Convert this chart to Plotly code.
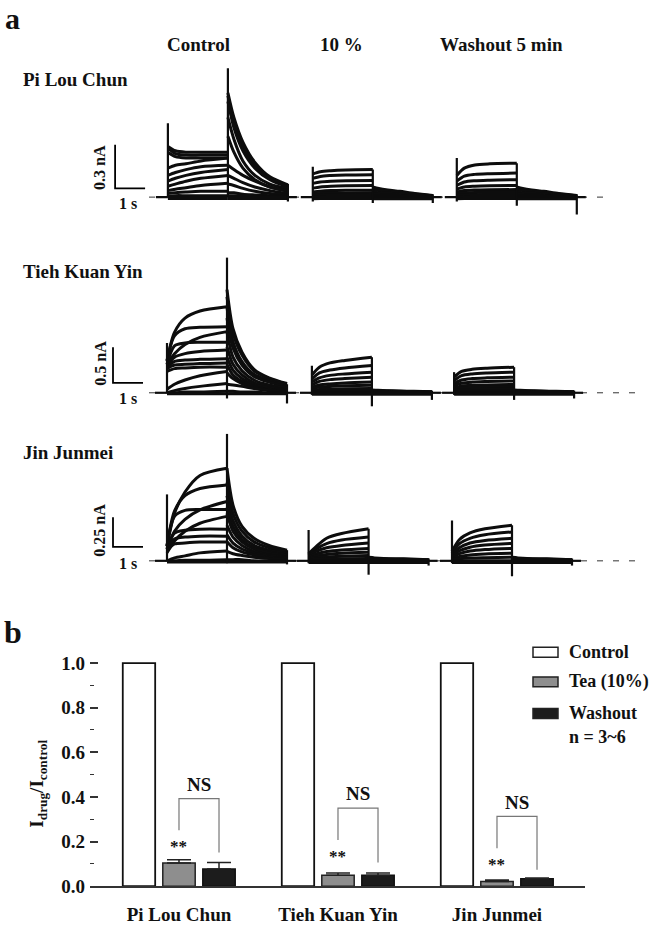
import plotly.graph_objects as go

W, H = 657, 933
FONT = "Liberation Serif, Times New Roman, DejaVu Serif, serif"

# ---------------- panel a : current families (nA vs s) ----------------
STEP_T = [0.0, 0.25, 0.6, 1.1, 2.0]          # s after step onset
TAIL_T = [0.0, 0.2, 0.5, 0.9, 1.4, 2.0]      # s after step end

# Pi Lou Chun
PLC_CTRL_STEP = [
    [0.35, 0.32, 0.31, 0.31, 0.31],
    [0.34, 0.30, 0.29, 0.29, 0.29],
    [0.31, 0.28, 0.27, 0.27, 0.27],
    [0.20, 0.22, 0.23, 0.25, 0.27],
    [0.15, 0.17, 0.19, 0.21, 0.22],
    [0.11, 0.13, 0.15, 0.17, 0.19],
    [0.075, 0.09, 0.11, 0.13, 0.15],
    [0.045, 0.055, 0.065, 0.08, 0.095],
    [0.025, 0.03, 0.035, 0.04, 0.04],
    [0.005, 0.01, 0.01, 0.01, 0.01],
    [-0.01, -0.01, -0.01, -0.01, -0.01],
]
PLC_CTRL_TAIL = [
    [0.72, 0.55, 0.38, 0.24, 0.14, 0.085],
    [0.70, 0.52, 0.35, 0.22, 0.13, 0.08],
    [0.66, 0.48, 0.32, 0.20, 0.12, 0.07],
    [0.55, 0.40, 0.25, 0.15, 0.09, 0.06],
    [0.42, 0.31, 0.20, 0.12, 0.07, 0.045],
    [0.22, 0.19, 0.15, 0.11, 0.07, 0.04],
    [0.15, 0.13, 0.10, 0.07, 0.045, 0.025],
    [0.09, 0.08, 0.06, 0.04, 0.025, 0.015],
    [0.03, 0.03, 0.02, 0.015, 0.01, 0.005],
    [0.01, 0.01, 0.01, 0.0, 0.0, 0.0],
    [-0.01, -0.01, -0.01, -0.01, -0.01, -0.01],
]
PLC_TEA_STEP = [
    [0.16, 0.175, 0.182, 0.187, 0.19],
    [0.13, 0.143, 0.149, 0.153, 0.155],
    [0.095, 0.105, 0.11, 0.113, 0.115],
    [0.062, 0.07, 0.075, 0.078, 0.08],
    [0.035, 0.041, 0.045, 0.047, 0.048],
    [0.02, 0.025, 0.027, 0.029, 0.03],
    [0.012, 0.015, 0.016, 0.017, 0.018],
    [0.0, 0.003, 0.004, 0.005, 0.005],
    [-0.012, -0.01, -0.01, -0.01, -0.01],
]
PLC_TEA_TAIL = [
    [0.07, 0.06, 0.05, 0.04, 0.025, 0.012],
    [0.05, 0.045, 0.038, 0.03, 0.02, 0.01],
    [0.035, 0.03, 0.026, 0.02, 0.014, 0.008],
    [0.02, 0.018, 0.015, 0.012, 0.008, 0.005],
    [0.01, 0.01, 0.008, 0.006, 0.004, 0.002],
    [0.005, 0.005, 0.004, 0.003, 0.002, 0.0],
    [0.0, 0.0, 0.0, 0.0, 0.0, 0.0],
    [-0.005, -0.005, -0.005, -0.005, -0.005, -0.005],
    [-0.012, -0.012, -0.012, -0.012, -0.012, -0.012],
]
PLC_WASH_STEP = [
    [0.15, 0.20, 0.222, 0.23, 0.234],
    [0.11, 0.145, 0.157, 0.162, 0.166],
    [0.08, 0.104, 0.113, 0.117, 0.12],
    [0.055, 0.07, 0.075, 0.078, 0.08],
    [0.035, 0.045, 0.049, 0.051, 0.052],
    [0.022, 0.029, 0.032, 0.033, 0.034],
    [0.012, 0.015, 0.017, 0.018, 0.018],
    [0.0, 0.003, 0.004, 0.005, 0.005],
    [-0.012, -0.01, -0.01, -0.01, -0.01],
]
PLC_WASH_TAIL = PLC_TEA_TAIL

# Tieh Kuan Yin
TKY_CTRL_STEP = [
    [0.45, 0.85, 1.05, 1.15, 1.21],
    [0.45, 0.80, 0.90, 0.92, 0.93],
    [0.40, 0.55, 0.68, 0.78, 0.86],
    [0.40, 0.66, 0.70, 0.71, 0.71],
    [0.38, 0.50, 0.55, 0.58, 0.60],
    [0.36, 0.44, 0.46, 0.47, 0.48],
    [0.34, 0.39, 0.40, 0.41, 0.42],
    [0.30, 0.34, 0.35, 0.36, 0.36],
    [0.05, 0.12, 0.18, 0.24, 0.30],
    [0.0, 0.03, 0.06, 0.09, 0.13],
    [0.0, 0.0, 0.01, 0.01, 0.02],
    [-0.015, -0.015, -0.015, -0.015, -0.015],
]
TKY_CTRL_TAIL = [
    [1.45, 0.90, 0.57, 0.33, 0.21, 0.13],
    [1.35, 0.84, 0.53, 0.31, 0.20, 0.12],
    [1.20, 0.72, 0.44, 0.26, 0.17, 0.10],
    [1.05, 0.63, 0.39, 0.23, 0.15, 0.09],
    [0.85, 0.50, 0.31, 0.18, 0.11, 0.07],
    [0.65, 0.40, 0.25, 0.14, 0.09, 0.05],
    [0.50, 0.32, 0.20, 0.11, 0.07, 0.04],
    [0.40, 0.25, 0.16, 0.09, 0.05, 0.03],
    [0.28, 0.20, 0.13, 0.07, 0.04, 0.02],
    [0.12, 0.11, 0.09, 0.06, 0.03, 0.01],
    [0.02, 0.02, 0.01, 0.01, 0.0, 0.0],
    [-0.015, -0.015, -0.015, -0.015, -0.015, -0.015],
]
TKY_TEA_STEP = [
    [0.25, 0.36, 0.42, 0.455, 0.50],
    [0.19, 0.28, 0.32, 0.35, 0.385],
    [0.15, 0.21, 0.245, 0.265, 0.29],
    [0.11, 0.16, 0.185, 0.20, 0.22],
    [0.08, 0.11, 0.125, 0.138, 0.15],
    [0.055, 0.08, 0.09, 0.098, 0.107],
    [0.03, 0.045, 0.05, 0.055, 0.06],
    [0.015, 0.022, 0.025, 0.028, 0.03],
    [0.0, 0.0, 0.0, 0.0, 0.0],
    [-0.02, -0.02, -0.02, -0.02, -0.02],
]
TKY_TEA_TAIL = [
    [0.04, 0.035, 0.03, 0.025, 0.02, 0.015],
    [0.03, 0.027, 0.024, 0.02, 0.016, 0.012],
    [0.025, 0.022, 0.02, 0.017, 0.014, 0.01],
    [0.018, 0.016, 0.014, 0.012, 0.01, 0.008],
    [0.012, 0.011, 0.01, 0.008, 0.006, 0.005],
    [0.008, 0.007, 0.006, 0.005, 0.004, 0.003],
    [0.004, 0.004, 0.003, 0.002, 0.002, 0.0],
    [0.0, 0.0, 0.0, 0.0, 0.0, 0.0],
    [-0.008, -0.008, -0.008, -0.008, -0.008, -0.008],
    [-0.02, -0.02, -0.02, -0.02, -0.02, -0.02],
]
TKY_WASH_STEP = [
    [0.22, 0.30, 0.33, 0.345, 0.36],
    [0.17, 0.24, 0.265, 0.278, 0.29],
    [0.13, 0.18, 0.20, 0.21, 0.22],
    [0.10, 0.135, 0.15, 0.158, 0.167],
    [0.07, 0.095, 0.105, 0.11, 0.116],
    [0.05, 0.068, 0.075, 0.079, 0.083],
    [0.03, 0.04, 0.045, 0.048, 0.05],
    [0.015, 0.02, 0.022, 0.024, 0.025],
    [0.0, 0.0, 0.0, 0.0, 0.0],
    [-0.02, -0.02, -0.02, -0.02, -0.02],
]
TKY_WASH_TAIL = TKY_TEA_TAIL

# Jin Junmei
JJ_CTRL_STEP = [
    [0.125, 0.40, 0.58, 0.72, 0.78],
    [0.125, 0.42, 0.55, 0.61, 0.64],
    [0.10, 0.25, 0.35, 0.43, 0.50],
    [0.125, 0.375, 0.425, 0.433, 0.433],
    [0.067, 0.167, 0.25, 0.317, 0.375],
    [0.10, 0.233, 0.258, 0.267, 0.267],
    [0.10, 0.183, 0.20, 0.208, 0.208],
    [0.083, 0.142, 0.15, 0.158, 0.158],
    [0.0, 0.025, 0.042, 0.067, 0.083],
    [0.0, 0.0, 0.005, 0.005, 0.01],
    [-0.01, -0.01, -0.01, -0.01, -0.01],
]
JJ_CTRL_TAIL = [
    [0.78, 0.47, 0.29, 0.19, 0.13, 0.09],
    [0.66, 0.40, 0.25, 0.16, 0.11, 0.075],
    [0.55, 0.34, 0.21, 0.13, 0.09, 0.06],
    [0.45, 0.29, 0.18, 0.11, 0.075, 0.05],
    [0.40, 0.25, 0.16, 0.10, 0.065, 0.045],
    [0.30, 0.20, 0.13, 0.08, 0.05, 0.035],
    [0.22, 0.15, 0.10, 0.065, 0.04, 0.03],
    [0.16, 0.11, 0.075, 0.05, 0.03, 0.02],
    [0.08, 0.06, 0.045, 0.03, 0.02, 0.01],
    [0.01, 0.01, 0.01, 0.0, 0.0, 0.0],
    [-0.01, -0.01, -0.01, -0.01, -0.01, -0.01],
]
JJ_TEA_STEP = [
    [0.06, 0.12, 0.19, 0.23, 0.27],
    [0.05, 0.10, 0.145, 0.175, 0.20],
    [0.04, 0.08, 0.11, 0.13, 0.15],
    [0.03, 0.058, 0.078, 0.092, 0.105],
    [0.02, 0.04, 0.054, 0.064, 0.072],
    [0.015, 0.026, 0.034, 0.039, 0.044],
    [0.008, 0.013, 0.016, 0.018, 0.02],
    [0.0, 0.0, 0.0, 0.0, 0.0],
    [-0.015, -0.015, -0.015, -0.015, -0.015],
]
JJ_TEA_TAIL = [
    [0.03, 0.025, 0.02, 0.018, 0.015, 0.01],
    [0.022, 0.02, 0.017, 0.014, 0.012, 0.008],
    [0.016, 0.014, 0.012, 0.01, 0.008, 0.006],
    [0.01, 0.009, 0.008, 0.007, 0.005, 0.004],
    [0.006, 0.005, 0.005, 0.004, 0.003, 0.002],
    [0.003, 0.003, 0.002, 0.002, 0.001, 0.0],
    [0.0, 0.0, 0.0, 0.0, 0.0, 0.0],
    [-0.006, -0.006, -0.006, -0.006, -0.006, -0.006],
    [-0.015, -0.015, -0.015, -0.015, -0.015, -0.015],
]
JJ_WASH_STEP = [
    [0.08, 0.18, 0.235, 0.27, 0.30],
    [0.065, 0.145, 0.19, 0.22, 0.244],
    [0.05, 0.11, 0.15, 0.172, 0.19],
    [0.04, 0.085, 0.115, 0.133, 0.147],
    [0.03, 0.06, 0.082, 0.095, 0.105],
    [0.02, 0.037, 0.05, 0.058, 0.064],
    [0.01, 0.018, 0.024, 0.027, 0.03],
    [0.0, 0.0, 0.0, 0.0, 0.0],
    [-0.015, -0.015, -0.015, -0.015, -0.015],
]
JJ_WASH_TAIL = JJ_TEA_TAIL

# transients: [low, high] in nA at onset, step end, tail end
PLC_SPIKES = [[[0, 0.51], [0, 0.89], [-0.03, 0.09]],
              [[-0.03, 0.21], [-0.04, 0.19], [-0.04, 0.02]],
              [[-0.03, 0.27], [-0.06, 0.234], [-0.12, 0.02]]]
TKY_SPIKES = [[[0, 0.70], [-0.08, 1.90], [-0.15, 0.12]],
              [[-0.03, 0.38], [-0.19, 0.50], [-0.10, 0.03]],
              [[-0.03, 0.29], [-0.10, 0.36], [-0.08, 0.03]]]
JJ_SPIKES = [[[0, 0.56], [-0.02, 1.07], [-0.03, 0.09]],
             [[-0.02, 0.26], [-0.117, 0.27], [-0.04, 0.02]],
             [[-0.02, 0.34], [-0.13, 0.30], [-0.04, 0.02]]]

# sweep onset times (s) of control, 10 %, washout within each row
PLC_ONSETS = [0.03, 4.86, 9.66]
TKY_ONSETS = [0.0, 4.83, 9.57]
JJ_ONSETS = [0.0, 4.72, 9.5]

ROW_NAMES = ["Pi Lou Chun", "Tieh Kuan Yin", "Jin Junmei"]
SCALE_NA = [0.3, 0.5, 0.25]
SCALE_S = 1.0
SCALE_LABELS = ["0.3 nA", "0.5 nA", "0.25 nA"]
ZERO_END = [14.6, 15.8, 15.8]

# ---------------- panel b : normalized current ----------------
TEAS = ["Pi Lou Chun", "Tieh Kuan Yin", "Jin Junmei"]
CONTROL = [1.0, 1.0, 1.0]
TEA = [0.104, 0.049, 0.021]
TEA_SEM = [0.014, 0.010, 0.006]
WASH = [0.077, 0.049, 0.033]
WASH_SEM = [0.029, 0.010, 0.003]
STAR_Y = [0.177, 0.133, 0.096]
NS_Y = [0.455, 0.415, 0.377]
BR_LEFT = [0.251, 0.207, 0.17]
BR_TOP = [0.392, 0.35, 0.313]
BR_RIGHT = [0.151, 0.106, 0.074]

BARGAP = 0.245
BARGROUPGAP = 0.19


def px(x):
    return x / W


def py(y):
    return 1 - y / H


fig = go.Figure()


def add_sweeps(row, t0, steps, tails, spikes):
    xa, ya = ("x", "y") if row == 1 else ("x%d" % row, "y%d" % row)
    sx, sy = [], []
    for s in steps:
        sx += [t0 + t for t in STEP_T] + [None]
        sy += list(s) + [None]
    for tl in tails:
        sx += [t0 + STEP_T[-1] + t for t in TAIL_T] + [None]
        sy += list(tl) + [None]
    fig.add_trace(go.Scatter(x=sx, y=sy, mode="lines", xaxis=xa, yaxis=ya,
                             line=dict(color="#0d0d0d", width=3, shape="spline", smoothing=0.8),
                             showlegend=False, hoverinfo="skip"))
    t_end = t0 + STEP_T[-1] + TAIL_T[-1]
    lx = [t0 - 0.4, t0, None, t0, t0, None,
          t0 + STEP_T[-1], t0 + STEP_T[-1], None, t_end, t_end, None, t_end, t_end + 0.3]
    ly = [0, 0, None, spikes[0][0], spikes[0][1], None,
          spikes[1][0], spikes[1][1], None, spikes[2][0], spikes[2][1], None, 0, 0]
    fig.add_trace(go.Scatter(x=lx, y=ly, mode="lines", xaxis=xa, yaxis=ya,
                             line=dict(color="#0d0d0d", width=2.2),
                             showlegend=False, hoverinfo="skip"))


rows = [
    (PLC_ONSETS, [(PLC_CTRL_STEP, PLC_CTRL_TAIL), (PLC_TEA_STEP, PLC_TEA_TAIL), (PLC_WASH_STEP, PLC_WASH_TAIL)], PLC_SPIKES),
    (TKY_ONSETS, [(TKY_CTRL_STEP, TKY_CTRL_TAIL), (TKY_TEA_STEP, TKY_TEA_TAIL), (TKY_WASH_STEP, TKY_WASH_TAIL)], TKY_SPIKES),
    (JJ_ONSETS, [(JJ_CTRL_STEP, JJ_CTRL_TAIL), (JJ_TEA_STEP, JJ_TEA_TAIL), (JJ_WASH_STEP, JJ_WASH_TAIL)], JJ_SPIKES),
]

# row axes: 30 px per second, baseline and nA/px per row
row_dom = [[0.7621, 0.9410], [0.5520, 0.7374], [0.3676, 0.5445]]
row_rng = [[-0.1535, 0.9855], [-0.285, 2.118], [-0.1875, 1.1875]]
bar_origin = [[-1.73, 0.061], [-1.8, 0.139], [-1.8, 0.118]]

for i, (onsets, panels, spikes) in enumerate(rows):
    r = i + 1
    xa, ya = ("x", "y") if r == 1 else ("x%d" % r, "y%d" % r)
    # zero-current reference line
    fig.add_trace(go.Scatter(x=[-0.6, ZERO_END[i]], y=[0, 0], mode="lines", xaxis=xa, yaxis=ya,
                             line=dict(color="#333", width=1, dash="6px,10px"),
                             showlegend=False, hoverinfo="skip"))
    for (steps, tails), t0, sp in zip(panels, onsets, spikes):
        add_sweeps(r, t0, steps, tails, sp)
    # scale bar
    bt, bi = bar_origin[i]
    fig.add_trace(go.Scatter(x=[bt, bt, bt + SCALE_S], y=[bi + SCALE_NA[i], bi, bi],
                             mode="lines", xaxis=xa, yaxis=ya,
                             line=dict(color="black", width=1.8),
                             showlegend=False, hoverinfo="skip"))
    xkey = "xaxis" if r == 1 else "xaxis%d" % r
    ykey = "yaxis" if r == 1 else "yaxis%d" % r
    fig.layout[xkey] = dict(domain=[0, 1], range=[-167 / 30, 490 / 30], visible=False,
                            anchor=ya, fixedrange=True)
    fig.layout[ykey] = dict(domain=row_dom[i], range=row_rng[i], visible=False,
                            anchor=xa, fixedrange=True)

# ---------------- panel b bars ----------------
xs = list(range(len(TEAS)))
fig.add_trace(go.Bar(x=xs, y=CONTROL, name="Control", xaxis="x4", yaxis="y4",
                     marker=dict(color="white", line=dict(color="#111", width=1.8)),
                     showlegend=False))
fig.add_trace(go.Bar(x=xs, y=TEA, name="Tea (10%)", xaxis="x4", yaxis="y4",
                     marker=dict(color="#8e8e8e", line=dict(color="#222", width=1.5)),
                     error_y=dict(type="data", symmetric=False, array=TEA_SEM, arrayminus=[0] * 3,
                                  color="#222", thickness=1.5, width=12),
                     showlegend=False))
fig.add_trace(go.Bar(x=xs, y=WASH, name="Washout", xaxis="x4", yaxis="y4",
                     marker=dict(color="#1c1c1c", line=dict(color="#111", width=1.5)),
                     error_y=dict(type="data", symmetric=False, array=WASH_SEM, arrayminus=[0] * 3,
                                  color="#222", thickness=1.5, width=12),
                     showlegend=False))

slot = (1 - BARGAP) / 3
for g in xs:
    fig.add_trace(go.Scatter(x=[g, g, g + slot, g + slot],
                             y=[BR_LEFT[g], BR_TOP[g], BR_TOP[g], BR_RIGHT[g]],
                             mode="lines", xaxis="x4", yaxis="y4",
                             line=dict(color="#777", width=1.2),
                             showlegend=False, hoverinfo="skip"))
    fig.add_annotation(x=g + slot / 2, y=NS_Y[g], xref="x4", yref="y4", text="<b>NS</b>",
                       showarrow=False, font=dict(family=FONT, size=19, color="#111"))
    fig.add_annotation(x=g, y=STAR_Y[g], xref="x4", yref="y4", text="<b>**</b>",
                       showarrow=False, font=dict(family=FONT, size=17, color="#111"))

fig.update_layout(
    xaxis4=dict(domain=[px(90), px(585)], range=[-0.5597, 2.5535], anchor="y4",
                tickvals=xs, ticktext=["<b>%s</b>" % t for t in TEAS], ticks="",
                showline=True, linecolor="#333",
                linewidth=2, showgrid=False, zeroline=False, ticklabelstandoff=10,
                tickfont=dict(family=FONT, size=19, color="#111"), fixedrange=True),
    yaxis4=dict(domain=[py(896.7), py(650)], range=[0, 1.093], anchor="x4",
                tickvals=[0, 0.2, 0.4, 0.6, 0.8, 1.0],
                ticktext=["<b>%.1f</b>" % v for v in [0, 0.2, 0.4, 0.6, 0.8, 1.0]],
                ticks="inside", ticklen=8,
                tickwidth=1.5, tickcolor="#333", showline=False, showgrid=False,
                zeroline=False, ticklabelstandoff=4,
                minor=dict(ticks="inside", ticklen=4, tickvals=[0.1, 0.3, 0.5, 0.7, 0.9],
                           tickcolor="#333", tickwidth=1.2),
                tickfont=dict(family=FONT, size=19, color="#111"), fixedrange=True),
    bargap=BARGAP, bargroupgap=BARGROUPGAP, barmode="group",
)


# ---------------- text ----------------
def label(text, x, y, size=19, xanchor="center", angle=0, yanchor="middle"):
    fig.add_annotation(x=px(x), y=py(y), xref="paper", yref="paper", text="<b>%s</b>" % text,
                       showarrow=False, xanchor=xanchor, yanchor=yanchor, textangle=angle,
                       font=dict(family=FONT, size=size, color="#111"))


label("a", 3, 0, size=30, xanchor="left", yanchor="top")
label("b", 2, 640, size=32, xanchor="left")
label("Control", 198, 45)
label("10 %", 341, 45)
label("Washout 5 min", 501, 45)
for name, y in zip(ROW_NAMES, [80, 275, 458]):
    label(name, 21, y, xanchor="left")
for lab, (lx, ly) in zip(SCALE_LABELS, [(100, 170), (101, 368), (100, 537)]):
    label(lab, lx, ly, size=16, angle=-90)
for ly in [206, 403, 570]:
    label("1 s", 128, ly, size=16)

label("I<sub>drug</sub>/I<sub>control</sub>", 38, 793, size=19, angle=-90)

# legend
LEG_NAMES = ["Control", "Tea (10%)", "Washout"]
LEG_FILL = ["white", "#8e8e8e", "#1c1c1c"]
for name, fill, yc in zip(LEG_NAMES, LEG_FILL, [660, 690, 722]):
    fig.add_shape(type="rect", xref="paper", yref="paper", x0=px(533), x1=px(558),
                  y0=py(yc + 5), y1=py(yc - 5), fillcolor=fill,
                  line=dict(color="#222", width=1.5))
    label(name, 567, yc, size=18, xanchor="left")
label("n = 3~6", 567, 746, size=18, xanchor="left")

fig.update_layout(width=W, height=H, margin=dict(l=0, r=0, t=0, b=0),
                  paper_bgcolor="white", plot_bgcolor="white", showlegend=False)

# the page's default body margin would push the figure 8 px right and down
fig.write_html("out.html", config={"displayModeBar": False},
               post_script="document.body.style.margin='0';")
